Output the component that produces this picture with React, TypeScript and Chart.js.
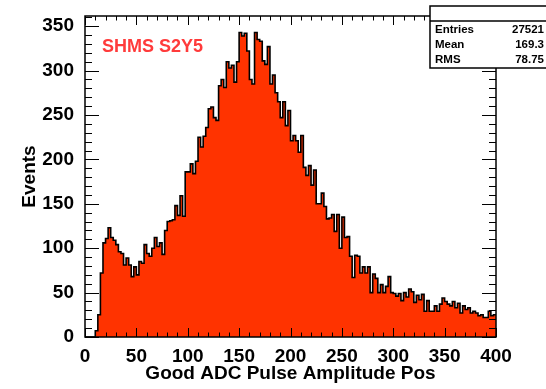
import { useEffect, useRef } from "react";
import { Chart, registerables } from "chart.js";

Chart.register(...registerables);

// ---- data ----
const X_MIN = 0;
const X_MAX = 400;
const BIN_WIDTH = 2.5;
const Y_MAX = 361.5;

const counts: number[] = [
  0, 0, 0, 0,
  7, 25, 72, 106, 111, 123, 112, 109, 104, 96, 94, 81, 89, 81, 68, 79, 70, 85, 83,
  104, 94, 91, 100, 112, 102, 106, 93, 120, 130, 131, 132, 148, 137, 159, 136,
  186, 186, 195, 184, 198, 225, 214, 226, 236, 257, 259, 247, 244, 283, 290, 281,
  310, 303, 306, 287, 310, 343, 339, 342, 322, 290, 285, 343, 335, 333, 311, 307,
  327, 285, 295, 275, 265, 247, 265, 238, 255, 221, 227, 221, 208, 227, 191, 182,
  193, 171, 188, 150, 150, 162, 147, 133, 134, 138, 119, 138, 100, 135, 112, 113,
  91, 67, 92, 91, 72, 79, 72, 79, 50, 71, 66, 50, 59, 50, 57, 68, 50, 49, 46, 49,
  41, 50, 45, 54, 51, 39, 47, 42, 48, 29, 41, 29, 29, 35, 29, 37, 44, 40, 37, 35,
  40, 33, 38, 27, 35, 31, 33, 27, 29, 27, 24, 25, 22, 22, 29, 24, 25,
];

const yTickValues = [0, 50, 100, 150, 200, 250, 300, 350];
const xMajorStep = 50;
const xMinorStep = 10;
const yMajorStep = 50;
const yMinorStep = 10;

const histLabel = "SHMS S2Y5";
const xTitle = "Good ADC Pulse Amplitude Pos";
const yTitle = "Events";
const statsNames = ["Entries", "Mean", "RMS"];
const statsValues = ["27521", "169.3", "78.75"];

const FILL = "#ff3300";
const LABEL_RED = "#ff3b3b";
const FONT = "'Liberation Sans', Arial, Helvetica, sans-serif";

const rootFrame = {
  id: "rootFrame",
  afterDraw(chart: any) {
    const { ctx, chartArea: a, scales } = chart;
    const x = scales.x;
    const y = scales.y;
    ctx.save();
    ctx.strokeStyle = "#000";
    ctx.lineWidth = 1;
    ctx.beginPath();
    for (let v = X_MIN; v <= X_MAX + 1e-9; v += xMinorStep) {
      const px = Math.round(x.getPixelForValue(v)) + 0.5;
      const major = v % xMajorStep === 0;
      const L = major ? 9 : 4.5;
      ctx.moveTo(px, a.bottom);
      ctx.lineTo(px, a.bottom - L);
      ctx.moveTo(px, a.top);
      ctx.lineTo(px, a.top + L);
    }
    for (let v = 0; v <= Y_MAX; v += yMinorStep) {
      const py = Math.round(y.getPixelForValue(v)) + 0.5;
      const major = v % yMajorStep === 0;
      const L = major ? 14 : 7;
      ctx.moveTo(a.left, py);
      ctx.lineTo(a.left + L, py);
      ctx.moveTo(a.right, py);
      ctx.lineTo(a.right - L, py);
    }
    ctx.stroke();
    ctx.lineWidth = 1.5;
    ctx.strokeRect(a.left, a.top, a.right - a.left, a.bottom - a.top);

    // histogram label
    ctx.fillStyle = LABEL_RED;
    ctx.font = `bold 18px ${FONT}`;
    ctx.textAlign = "left";
    ctx.textBaseline = "alphabetic";
    ctx.fillText(histLabel, a.left + 17, a.top + 36);

    // stats box
    const bx = 430, by = 6, bw = 125, bh = 62;
    ctx.fillStyle = "#fff";
    ctx.fillRect(bx, by, bw, bh);
    ctx.strokeStyle = "#000";
    ctx.lineWidth = 1.5;
    ctx.strokeRect(bx, by, bw, bh);
    ctx.beginPath();
    ctx.moveTo(bx, by + 15);
    ctx.lineTo(bx + bw, by + 15);
    ctx.stroke();
    ctx.fillStyle = "#000";
    ctx.font = `bold 11.5px ${FONT}`;
    statsNames.forEach((n, i) => {
      const base = by + 27 + i * 15;
      ctx.textAlign = "left";
      ctx.fillText(n, bx + 5, base);
      ctx.textAlign = "right";
      ctx.fillText(statsValues[i], 544, base);
    });
    ctx.restore();
  },
};

export default function App() {
  const ref = useRef<HTMLCanvasElement | null>(null);
  useEffect(() => {
    if (!ref.current) return;
    const pts = counts.map((c, i) => ({ x: X_MIN + i * BIN_WIDTH, y: c }));
    pts.push({ x: X_MAX, y: counts[counts.length - 1] });
    const chart = new Chart(ref.current, {
      type: "line",
      data: {
        datasets: [
          {
            data: pts,
            stepped: "before",
            fill: "origin",
            backgroundColor: FILL,
            borderColor: "#000",
            borderWidth: 1.6,
            pointRadius: 0,
            tension: 0,
          } as any,
        ],
      },
      options: {
        animation: false,
        responsive: false,
        layout: { padding: { top: 16, right: 50, left: 0, bottom: 0 } },
        plugins: { legend: { display: false }, tooltip: { enabled: false } },
        scales: {
          x: {
            type: "linear",
            min: X_MIN,
            max: X_MAX,
            grid: { display: false },
            border: { display: false },
            ticks: {
              stepSize: xMajorStep,
              color: "#000",
              font: { family: FONT, size: 19, weight: "bold" },
              padding: 0,
              maxRotation: 0,
            },
            title: {
              display: true,
              text: xTitle,
              color: "#000",
              font: { family: FONT, size: 19, weight: "bold" },
              padding: { top: 0, bottom: 4 },
            },
            afterFit: (s: any) => {
              s.height = 52;
            },
          },
          y: {
            type: "linear",
            min: 0,
            max: Y_MAX,
            grid: { display: false },
            border: { display: false },
            afterBuildTicks: (s: any) => {
              s.ticks = yTickValues.map((v) => ({ value: v }));
            },
            ticks: {
              color: "#000",
              font: { family: FONT, size: 19, weight: "bold" },
              padding: 3,
            },
            title: {
              display: true,
              text: yTitle,
              color: "#000",
              font: { family: FONT, size: 19, weight: "bold" },
              padding: { top: 18, bottom: 0 },
            },
            afterFit: (s: any) => {
              s.width = 85;
            },
          },
        },
      },
      plugins: [rootFrame],
    });
    return () => chart.destroy();
  }, []);
  return (
    <canvas
      ref={ref}
      width={546}
      height={389}
      style={{ position: "absolute", left: 0, top: 0, width: 546, height: 389 }}
    />
  );
}
